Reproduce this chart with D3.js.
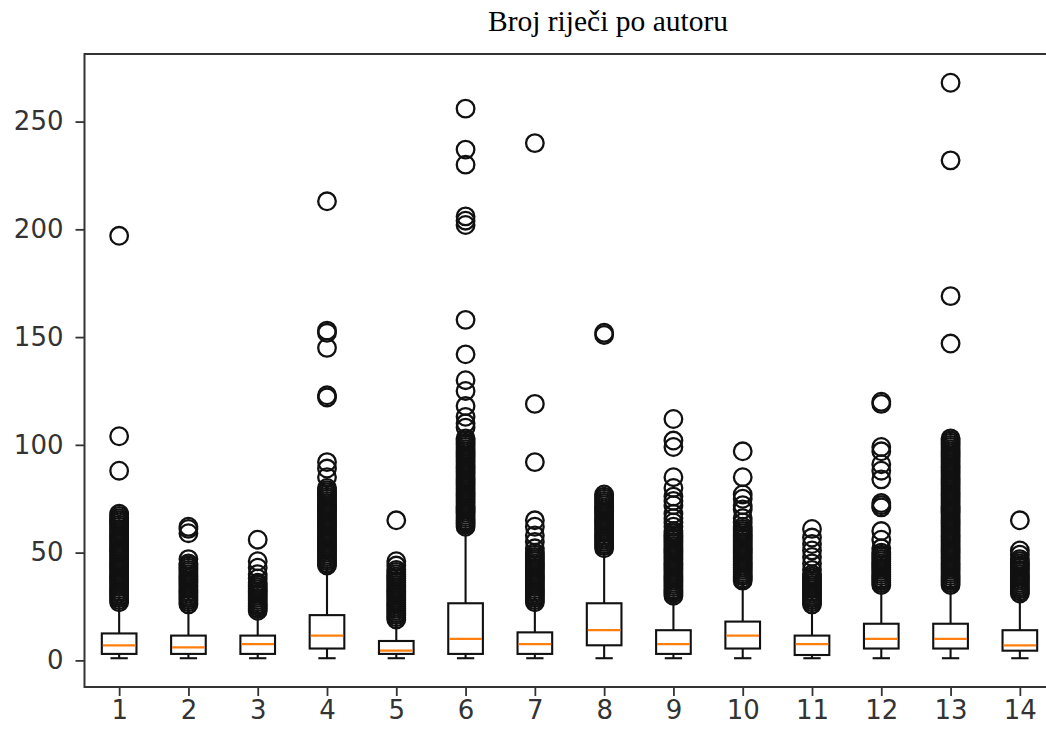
<!DOCTYPE html>
<html>
<head>
<meta charset="utf-8">
<script src="https://cdnjs.cloudflare.com/ajax/libs/d3/7.8.5/d3.min.js"></script>
<style>
  body { margin: 0; background: #fff; overflow: hidden; }
</style>
</head>
<body>
<div id="vis"></div>
<script>
// authors (x tick labels)
const authors = ["1","2","3","4","5","6","7","8","9","10","11","12","13","14"];

// box statistics
const whiskerLo = [1, 1, 1, 1, 1, 1, 1, 1, 1, 1, 1, 1, 1, 1];
const q1        = [3, 3, 3, 5.5, 3, 3, 3, 7, 3, 5.5, 2.5, 5.5, 5.5, 4.5];
const median    = [7, 6, 7.5, 11.5, 4.5, 10, 7.5, 14, 7.5, 11.5, 7.5, 10, 10, 7];
const q3        = [12.5, 11.5, 11.5, 21, 9, 26.5, 13, 26.5, 14, 18, 11.5, 17, 17, 14];
const whiskerHi = [26, 25, 22, 43, 18, 61, 26, 50, 29, 36, 25, 34, 34, 30];

// outliers per author
const fliers = [
  [27,28,29,30,31,32,33,34,35,36,37,38,39,40,41,42,43,44,45,46,47,48,49,50,51,52,53,54,55,56,57,58,59,60,61,62,63,64,65,66,67,68,88,104,197],
  [26,27,28,29,30,31,32,33,34,35,36,37,38,39,40,41,42,43,44,45,47,59,61,62],
  [23,24,25,26,27,28,29,30,31,32,33,34,35,36,38,40,43,46,56],
  [44,45,46,47,48,49,50,51,52,53,54,55,56,57,58,59,60,61,62,63,64,65,66,67,68,69,70,71,72,73,74,75,76,77,78,79,80,85,89,92,122,123,145,152,153,213],
  [19,20,21,22,23,24,25,26,27,28,29,30,31,32,33,34,35,36,37,38,39,40,41,42,44,46,65],
  [62,63,64,65,66,67,68,69,70,71,72,73,74,75,76,77,78,79,80,81,82,83,84,85,86,87,88,89,90,91,92,93,94,95,96,97,98,99,100,101,102,103,108,110,113,118,125,130,142,158,202,204,206,230,237,256],
  [27,28,29,30,31,32,33,34,35,36,37,38,39,40,41,42,43,44,45,46,47,48,49,50,52,55,58,62,65,92,119,240],
  [52,53,54,55,56,57,58,59,60,61,62,63,64,65,66,67,68,69,70,71,72,73,74,75,76,77,151,152],
  [30,31,32,33,34,35,36,37,38,39,40,41,42,43,44,45,46,47,48,49,50,51,52,53,54,55,56,57,58,59,60,62,64,66,68,72,74,76,80,85,99,102,112],
  [37,38,39,40,41,42,43,44,45,46,47,48,49,50,51,52,53,54,55,56,57,58,59,60,61,62,64,66,70,72,75,77,85,97],
  [26,27,28,29,30,31,32,33,34,35,36,37,38,39,40,42,45,48,51,54,57,61],
  [35,36,37,38,39,40,41,42,43,44,45,46,47,48,49,50,52,56,60,71,72,73,84,88,91,97,99,119,120],
  [35,36,37,38,39,40,41,42,43,44,45,46,47,48,49,50,51,52,53,54,55,56,57,58,59,60,61,62,63,64,65,66,67,68,69,70,71,72,73,74,75,76,77,78,79,80,81,82,83,84,85,86,87,88,89,90,91,92,93,94,95,96,97,98,99,100,101,102,103,147,169,232,268],
  [31,32,33,34,35,36,37,38,39,40,41,42,43,44,45,46,47,49,51,65]
];

const yTicks = [0, 50, 100, 150, 200, 250];

const W = 1046, H = 738;
const mLeft = 84.5, mRight = 1054.5, mTop = 54, mBottom = 687;

const svg = d3.select("#vis").append("svg")
    .attr("width", W)
    .attr("height", H)
    .style("display", "block");

const boxes = authors.map((a, i) => ({
    pos: i + 1, lo: whiskerLo[i], q1: q1[i], med: median[i], q3: q3[i], hi: whiskerHi[i], out: fliers[i]
}));

// matplotlib style 5% margins
const allVals = boxes.flatMap(b => [b.lo, b.hi].concat(b.out));
const vmin = d3.min(allVals), vmax = d3.max(allVals);
const pad = (vmax - vmin) * 0.05;

const x = d3.scaleLinear().domain([0.5, authors.length + 0.5]).range([mLeft, mRight]);
const y = d3.scaleLinear().domain([vmin - pad, vmax + pad]).range([mBottom, mTop]);

const boxW = (x(2) - x(1)) * 0.5;
const capW = boxW / 2;

// title
svg.append("text")
    .attr("x", 608)
    .attr("y", 31)
    .attr("text-anchor", "middle")
    .style("font-family", "'Liberation Serif', 'Times New Roman', serif")
    .style("font-size", "29.5px")
    .attr("fill", "#000")
    .text("Broj riječi po autoru");

const plot = svg.append("g");

// fliers
plot.selectAll("g.fl")
    .data(boxes)
    .join("g")
    .attr("class", "fl")
    .each(function(b) {
        d3.select(this).selectAll("circle")
            .data(b.out)
            .join("circle")
            .attr("cx", x(b.pos))
            .attr("cy", v => y(v))
            .attr("r", 8.8)
            .attr("fill", "none")
            .attr("stroke", "#111")
            .attr("stroke-width", 2.3);
    });

const g = plot.selectAll("g.box")
    .data(boxes)
    .join("g")
    .attr("class", "box")
    .attr("stroke", "#111")
    .attr("stroke-width", 2.1)
    .attr("fill", "none");

// whiskers
g.append("line")
    .attr("x1", b => x(b.pos)).attr("x2", b => x(b.pos))
    .attr("y1", b => y(b.q3)).attr("y2", b => y(b.hi));
g.append("line")
    .attr("x1", b => x(b.pos)).attr("x2", b => x(b.pos))
    .attr("y1", b => y(b.q1)).attr("y2", b => y(b.lo));
// caps
g.append("line")
    .attr("x1", b => x(b.pos) - capW / 2).attr("x2", b => x(b.pos) + capW / 2)
    .attr("y1", b => y(b.hi)).attr("y2", b => y(b.hi));
g.append("line")
    .attr("x1", b => x(b.pos) - capW / 2).attr("x2", b => x(b.pos) + capW / 2)
    .attr("y1", b => y(b.lo)).attr("y2", b => y(b.lo));
// box
g.append("rect")
    .attr("x", b => x(b.pos) - boxW / 2)
    .attr("width", boxW)
    .attr("y", b => y(b.q3))
    .attr("height", b => y(b.q1) - y(b.q3));
// median
g.append("line")
    .attr("stroke", "#ff7f0e")
    .attr("stroke-width", 2.2)
    .attr("x1", b => x(b.pos) - boxW / 2 + 1).attr("x2", b => x(b.pos) + boxW / 2 - 1)
    .attr("y1", b => y(b.med)).attr("y2", b => y(b.med));

// axes
const yAxis = d3.axisLeft(y).tickValues(yTicks).tickSize(9).tickPadding(12);
const xAxis = d3.axisBottom(x).tickValues(authors.map((a, i) => i + 1))
    .tickFormat((d, i) => authors[i]).tickSize(9).tickPadding(5);

const ya = svg.append("g").attr("transform", `translate(${mLeft},0)`).call(yAxis);
const xa = svg.append("g").attr("transform", `translate(0,${mBottom})`).call(xAxis);
[ya, xa].forEach(a => {
    a.select(".domain").remove();
    a.selectAll("line").attr("stroke", "#333").attr("stroke-width", 1.8);
    a.selectAll("text")
        .style("font-family", "'DejaVu Sans', sans-serif")
        .style("font-size", "26px")
        .attr("fill", "#333");
});

// spines
svg.append("rect")
    .attr("x", mLeft).attr("y", mTop)
    .attr("width", mRight - mLeft).attr("height", mBottom - mTop)
    .attr("fill", "none")
    .attr("stroke", "#333")
    .attr("stroke-width", 2);
</script>
</body>
</html>
